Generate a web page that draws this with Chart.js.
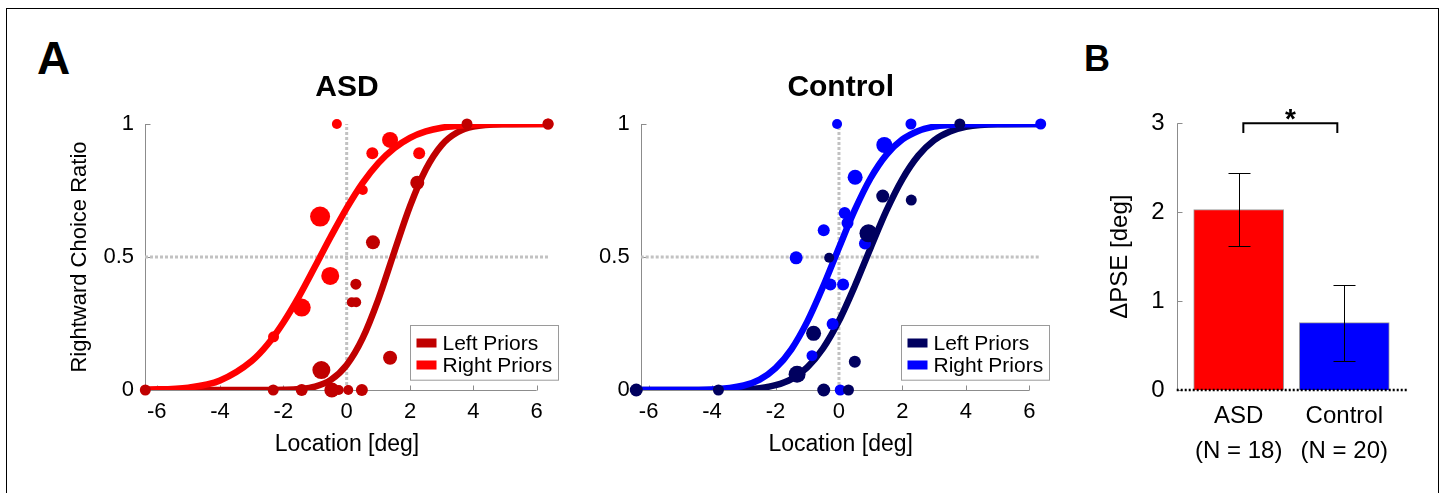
<!DOCTYPE html>
<html>
<head>
<meta charset="utf-8">
<script src="https://cdn.jsdelivr.net/npm/chart.js@4.4.1/dist/chart.umd.min.js"></script>
<style>
  html, body { margin: 0; padding: 0; background: #fff; }
  body { width: 1444px; height: 493px; position: relative; overflow: hidden;
         font-family: "Liberation Sans", Arial, Helvetica, sans-serif; }
  .frame { position: absolute; left: 6px; top: 8px; width: 1433px; height: 520px;
           border: 1px solid #000; box-sizing: border-box; }
  .panel-label { position: absolute; font-weight: bold; line-height: 1; color: #000; }
  canvas { position: absolute; }
</style>
</head>
<body>
<div class="frame"></div>
<div class="panel-label" style="left:37px; top:35px; font-size:46px;">A</div>
<div class="panel-label" style="left:1084px; top:41px; font-size:36px;">B</div>
<canvas id="asdPanel" width="540" height="420" style="left:40px; top:60px;"></canvas>
<canvas id="controlPanel" width="480" height="420" style="left:590px; top:60px;"></canvas>
<canvas id="psePanel" width="370" height="420" style="left:1060px; top:60px;"></canvas>
<script>
// ---- data ----
const locTicks = [-6, -4, -2, 0, 2, 4, 6];
const ratioTicks = [0, 0.5, 1];

// fitted psychometric curves
const curveX        = [-6.4, -5, -4, -3, -2.5, -2, -1.5, -1, -0.5, 0, 0.5, 1, 1.5, 2, 2.5, 3, 3.5, 4, 5, 6.4];
const asdLeftCurve  = [0, 0, 0, 0, 0.0002, 0.001, 0.004, 0.013, 0.038, 0.094, 0.194, 0.341, 0.518, 0.691, 0.830, 0.921, 0.969, 0.990, 0.999, 1];
const asdRightCurve = [0.001, 0.009, 0.036, 0.109, 0.171, 0.254, 0.353, 0.464, 0.577, 0.684, 0.778, 0.853, 0.909, 0.948, 0.972, 0.986, 0.993, 0.997, 1, 1];
const ctlLeftCurve  = [0, 0, 0, 0.002, 0.007, 0.018, 0.041, 0.085, 0.157, 0.260, 0.391, 0.535, 0.675, 0.793, 0.881, 0.939, 0.972, 0.989, 0.999, 1];
const ctlRightCurve = [0, 0, 0.002, 0.017, 0.039, 0.082, 0.153, 0.257, 0.389, 0.535, 0.677, 0.797, 0.885, 0.942, 0.974, 0.990, 0.996, 0.999, 1, 1];

// single-subject points (marker radius follows trial count)
const asdLeftX    = [-6.36, -2.32, -1.42, -0.47, -0.25, 0.05, 0.48, -0.8, 1.37, 0.16, 0.3, 0.29, 0.83, 2.23, 3.8, 6.36];
const asdLeftY    = [0, 0, 0, 0, 0, 0, 0, 0.075, 0.121, 0.33, 0.33, 0.398, 0.555, 0.779, 1, 1];
const asdLeftR    = [5.5, 5.5, 6, 7.5, 5, 5, 6, 9, 7, 5, 5, 5.5, 7, 7, 5.5, 5.5];
const asdRightX   = [-2.31, -1.42, -0.52, -0.84, 0.51, 0.81, 2.29, 1.37, -0.31, 6.36];
const asdRightY   = [0.2, 0.31, 0.429, 0.652, 0.752, 0.89, 0.89, 0.94, 1, 1];
const asdRightR   = [5.5, 9, 9, 10, 5, 6, 6, 8, 5, 5.5];

const ctlLeftX    = [-6.39, -3.8, -0.48, 0.3, -1.32, 0.5, -0.8, -0.31, 0.93, 2.28, 1.38, 3.81];
const ctlLeftY    = [0, 0, 0, 0, 0.059, 0.106, 0.213, 0.497, 0.589, 0.714, 0.729, 1];
const ctlLeftR    = [6.5, 5.5, 6.5, 5.5, 8.5, 6, 7.5, 5, 9, 5.5, 6.5, 5.5];
const ctlRightX   = [0.04, -0.85, -0.2, -0.27, 0.13, -1.35, 0.82, -0.48, 0.27, 0.18, 0.51, 1.43, -0.06, 2.27, 6.36];
const ctlRightY   = [0, 0.129, 0.248, 0.397, 0.397, 0.497, 0.551, 0.601, 0.628, 0.665, 0.80, 0.921, 1, 1, 1];
const ctlRightR   = [5.5, 5.5, 6, 6, 6, 6.5, 6, 6, 6, 6, 7.5, 8, 5, 5.5, 5.5];

// panel B
const groupNames = [['ASD', '(N = 18)'], ['Control', '(N = 20)']];
const groupPos   = [1, 2];
const deltaPSE   = [2.03, 0.757];
const pseLow     = [1.62, 0.33];
const pseHigh    = [2.44, 1.18];
const pseTicks   = [0, 1, 2, 3];
const sigBracket = { from: 1.044, to: 1.934, y: 3, drop: 0.11, label: '*' };

// ---- styling ----
Chart.defaults.font.family = '"Liberation Sans", Arial, Helvetica, sans-serif';
Chart.defaults.color = '#000';

const axisGray = '#8c8c8c';
const refGray = '#c2c2c2';
const colors = {
  asdLeft: '#c00000', asdRight: '#ff0000',
  ctlLeft: '#00005f', ctlRight: '#0000ff'
};

// matlab-like axes: gray lines with inward ticks
const matlabAxes = {
  id: 'matlabAxes',
  beforeDatasetsDraw(chart, args, opts) {
    const { ctx } = chart;
    const x = chart.scales.x, y = chart.scales.y;
    const left = Math.round(x.left) + 0.5;
    ctx.save();
    ctx.strokeStyle = axisGray;
    ctx.lineWidth = 1;
    ctx.beginPath();
    ctx.moveTo(left, y.getPixelForValue(y.min));
    ctx.lineTo(left, y.getPixelForValue(y.max));
    y.ticks.forEach(t => {
      const py = Math.round(y.getPixelForValue(t.value)) + 0.5;
      ctx.moveTo(left, py);
      ctx.lineTo(left + 5, py);
    });
    if (opts.xEnd !== undefined) {
      const bottom = Math.round(y.bottom) + 0.5;
      ctx.moveTo(left, bottom);
      ctx.lineTo(x.getPixelForValue(opts.xEnd), bottom);
      x.ticks.forEach(t => {
        const px = Math.round(x.getPixelForValue(t.value)) + 0.5;
        ctx.moveTo(px, bottom);
        ctx.lineTo(px, bottom - 5);
      });
    }
    ctx.stroke();
    ctx.restore();
  }
};

// boxed legend inside the lower right corner of the plot
const boxLegend = {
  id: 'boxLegend',
  afterDatasetsDraw(chart, args, opts) {
    if (!opts.items) return;
    const { ctx, chartArea } = chart;
    const bx = Math.round(chartArea.right + opts.dx) + 0.5;
    const by = Math.round(chartArea.bottom + opts.dy) + 0.5;
    ctx.save();
    ctx.fillStyle = '#fff';
    ctx.fillRect(bx, by, opts.w, opts.h);
    ctx.strokeStyle = '#9a9a9a';
    ctx.lineWidth = 1;
    ctx.strokeRect(bx, by, opts.w, opts.h);
    ctx.font = '21px "Liberation Sans", Arial, sans-serif';
    ctx.textBaseline = 'middle';
    opts.items.forEach((item, i) => {
      const cy = by + 17.5 + i * 22;
      ctx.fillStyle = item.color;
      ctx.fillRect(bx + 6, cy - 4.5, 20, 9);
      ctx.fillStyle = '#000';
      ctx.fillText(item.text, bx + 32, cy + 1);
    });
    ctx.restore();
  }
};

function pointSet(xs, ys, rs, color) {
  return {
    data: xs.map((x, i) => ({ x, y: ys[i] })),
    pointRadius: rs, pointHoverRadius: rs,
    backgroundColor: color, pointBorderWidth: 0, borderWidth: 0,
    showLine: false, clip: false
  };
}

function curveSet(ys, color) {
  return {
    data: curveX.map((x, i) => ({ x, y: ys[i] })),
    showLine: true, pointRadius: 0, borderColor: color, borderWidth: 6.5,
    cubicInterpolationMode: 'monotone', fill: false
  };
}

function refLine(points) {
  return {
    data: points, showLine: true, pointRadius: 0,
    borderColor: refGray, borderWidth: 3, borderDash: [3, 2]
  };
}

const plainNumber = v => String(v);

function panelA(id, opts) {
  const [xMin, xMax] = opts.xRange;
  new Chart(document.getElementById(id), {
    type: 'scatter',
    plugins: [matlabAxes, boxLegend],
    data: {
      datasets: [
        pointSet(opts.left.x, opts.left.y, opts.left.r, opts.left.color),
        pointSet(opts.right.x, opts.right.y, opts.right.r, opts.right.color),
        curveSet(opts.right.curve, opts.right.color),
        curveSet(opts.left.curve, opts.left.color),
        refLine([{ x: xMin, y: 0.5 }, { x: xMax, y: 0.5 }]),
        refLine([{ x: 0, y: 0 }, { x: 0, y: 1 }])
      ]
    },
    options: {
      responsive: false,
      animation: false,
      events: [],
      layout: { padding: { left: 0, right: opts.padRight, top: 0, bottom: 0 } },
      scales: {
        x: {
          type: 'linear', min: xMin, max: xMax,
          afterBuildTicks: s => { s.ticks = locTicks.map(v => ({ value: v })); },
          afterFit: s => { s.height = 90; },
          grid: { display: false, drawTicks: false },
          border: { display: false },
          ticks: { font: { size: 22 }, padding: 9, autoSkip: false, maxRotation: 0, callback: plainNumber },
          title: { display: true, text: 'Location [deg]', font: { size: 23 }, padding: { top: 0, bottom: 22 } }
        },
        y: {
          type: 'linear', min: 0, max: 1,
          afterBuildTicks: s => { s.ticks = ratioTicks.map(v => ({ value: v })); },
          afterFit: s => { s.width = opts.yWidth; },
          grid: { display: false, drawTicks: false },
          border: { display: false },
          ticks: { font: { size: 22 }, padding: 11, callback: plainNumber },
          title: { display: !!opts.yTitle, text: opts.yTitle || '', font: { size: 22 }, padding: { top: 27, bottom: 0 } }
        }
      },
      plugins: {
        legend: { display: false },
        tooltip: { enabled: false },
        title: {
          display: true, text: opts.title, fullSize: false,
          font: { size: 30, weight: 'bold' }, padding: { top: 10, bottom: 18 }
        },
        matlabAxes: { xEnd: 6 },
        boxLegend: {
          dx: -139.5, dy: -64.7, w: 148, h: 54.7,
          items: [
            { text: 'Left Priors', color: opts.left.color },
            { text: 'Right Priors', color: opts.right.color }
          ]
        }
      }
    }
  });
}

panelA('asdPanel', {
  title: 'ASD', yTitle: 'Rightward Choice Ratio',
  xRange: [-6.37, 6.39], yWidth: 105, padRight: 31,
  left:  { x: asdLeftX, y: asdLeftY, r: asdLeftR, curve: asdLeftCurve, color: colors.asdLeft },
  right: { x: asdRightX, y: asdRightY, r: asdRightR, curve: asdRightCurve, color: colors.asdRight }
});

panelA('controlPanel', {
  title: 'Control',
  xRange: [-6.25, 6.36], yWidth: 50.7, padRight: 29.3,
  left:  { x: ctlLeftX, y: ctlLeftY, r: ctlLeftR, curve: ctlLeftCurve, color: colors.ctlLeft },
  right: { x: ctlRightX, y: ctlRightY, r: ctlRightR, curve: ctlRightCurve, color: colors.ctlRight }
});

// error bars and significance bracket for panel B
const errorBars = {
  id: 'errorBars',
  afterDatasetsDraw(chart, args, opts) {
    const { ctx } = chart;
    const x = chart.scales.x, y = chart.scales.y;
    ctx.save();
    ctx.strokeStyle = '#000';
    ctx.lineWidth = 1;
    ctx.beginPath();
    groupPos.forEach((p, i) => {
      const px = Math.round(x.getPixelForValue(p)) + 0.5;
      const lo = Math.round(y.getPixelForValue(pseLow[i])) + 0.5;
      const hi = Math.round(y.getPixelForValue(pseHigh[i])) + 0.5;
      ctx.moveTo(px, lo); ctx.lineTo(px, hi);
      ctx.moveTo(px - 11, lo); ctx.lineTo(px + 11, lo);
      ctx.moveTo(px - 11, hi); ctx.lineTo(px + 11, hi);
    });
    ctx.stroke();

    const b = opts.bracket;
    const x1 = x.getPixelForValue(b.from), x2 = x.getPixelForValue(b.to);
    const yt = y.getPixelForValue(b.y), yb = y.getPixelForValue(b.y - b.drop);
    ctx.lineWidth = 2;
    ctx.beginPath();
    ctx.moveTo(x1, yb); ctx.lineTo(x1, yt); ctx.lineTo(x2, yt); ctx.lineTo(x2, yb);
    ctx.stroke();
    ctx.fillStyle = '#000';
    ctx.font = 'bold 28px "Liberation Sans", Arial, sans-serif';
    ctx.textAlign = 'center';
    ctx.textBaseline = 'alphabetic';
    ctx.fillText(b.label, (x1 + x2) / 2, yt + 5);
    ctx.restore();
  }
};

const pseRange = [0.413, 2.591];

new Chart(document.getElementById('psePanel'), {
  type: 'bar',
  plugins: [matlabAxes, errorBars],
  data: {
    datasets: [
      {
        type: 'line',
        data: [{ x: pseRange[0], y: 0 }, { x: pseRange[1], y: 0 }],
        borderColor: '#000', borderWidth: 2.5, borderDash: [2, 2],
        pointRadius: 0, clip: false
      },
      {
        data: groupPos.map((p, i) => ({ x: p, y: deltaPSE[i] })),
        backgroundColor: ['#ff0000', '#0000ff'],
        borderColor: '#9a9a9a', borderWidth: 1,
        barThickness: 90
      }
    ]
  },
  options: {
    responsive: false,
    animation: false,
    events: [],
    layout: { padding: { left: 0, right: 23.3, top: 63.3, bottom: 0 } },
    scales: {
      x: {
        type: 'linear', min: pseRange[0], max: pseRange[1], offset: false,
        afterBuildTicks: s => { s.ticks = groupPos.map(v => ({ value: v })); },
        afterFit: s => { s.height = 90; },
        grid: { display: false, drawTicks: false, offset: false },
        border: { display: false },
        ticks: {
          font: { size: 24, lineHeight: 1.46 }, padding: 9, autoSkip: false, maxRotation: 0,
          callback: v => groupNames[groupPos.indexOf(v)]
        }
      },
      y: {
        type: 'linear', min: 0, max: 3,
        afterBuildTicks: s => { s.ticks = pseTicks.map(v => ({ value: v })); },
        afterFit: s => { s.width = 116.7; },
        grid: { display: false, drawTicks: false },
        border: { display: false },
        ticks: { font: { size: 24 }, padding: 12, callback: plainNumber },
        title: { display: true, text: 'ΔPSE [deg]', font: { size: 24 }, padding: { top: 45.6, bottom: 0 } }
      }
    },
    plugins: {
      legend: { display: false },
      tooltip: { enabled: false },
      errorBars: { bracket: sigBracket }
    }
  }
});
</script>
</body>
</html>
